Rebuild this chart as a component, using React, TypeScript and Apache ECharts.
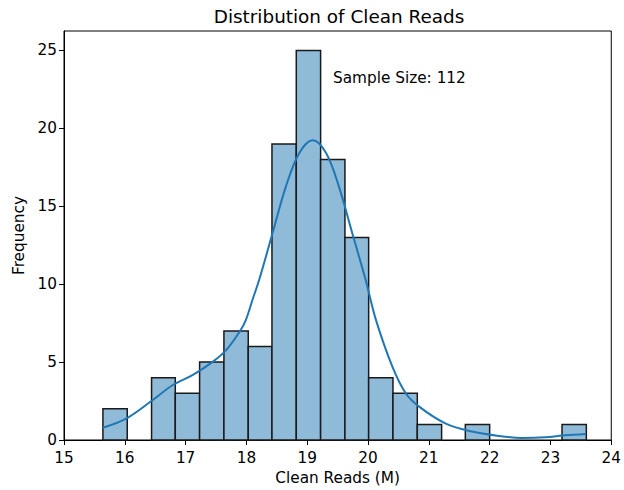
import React, { useEffect, useRef } from "react";
import * as echarts from "echarts";

const binEdges = [15.64, 16.04, 16.44, 16.83, 17.23, 17.63, 18.03, 18.42, 18.82, 19.22, 19.62, 20.01, 20.41, 20.81, 21.21, 21.6, 22.0, 22.4, 22.79, 23.19, 23.59];
const binCounts = [2, 0, 4, 3, 5, 7, 6, 19, 25, 18, 13, 4, 3, 1, 0, 1, 0, 0, 0, 1];

const kdeX = [15.64, 16.03, 16.46, 16.79, 17.12, 17.45, 17.67, 17.89, 17.99, 18.1, 18.21, 18.43, 18.65, 18.87, 19.09, 19.31, 19.52, 19.74, 19.96, 20.13, 20.4, 20.62, 20.84, 21.27, 21.71, 22.15, 22.53, 22.91, 23.24, 23.58];
const kdeY = [0.79, 1.39, 2.57, 3.53, 4.18, 5.03, 5.78, 6.96, 7.7, 9.0, 10.28, 13.28, 16.28, 18.42, 19.24, 18.42, 16.28, 13.28, 10.28, 7.71, 4.71, 3.0, 2.14, 1.07, 0.54, 0.26, 0.13, 0.17, 0.3, 0.39];

const xTicks = [15, 16, 17, 18, 19, 20, 21, 22, 23, 24];
const yTicks = [0, 5, 10, 15, 20, 25];

const FONT = "DejaVu Sans";
const FS = 15.3;

export default function App() {
  const ref = useRef<HTMLDivElement>(null);
  useEffect(() => {
    if (!ref.current) return;
    const chart = echarts.init(ref.current, null, { renderer: "svg" });
    const histData = binCounts.map((c, i) => [binEdges[i], binEdges[i + 1], c]);
    chart.setOption({
      animation: false,
      backgroundColor: "#ffffff",
      title: {
        text: "Distribution of Clean Reads",
        left: 334,
        textAlign: "center",
        top: 2,
        textStyle: { fontFamily: FONT, fontSize: 18.4, fontWeight: "normal", color: "#000" },
      },
      grid: {
        left: 64,
        right: 11,
        top: 31,
        bottom: 50,
        show: true,
        borderColor: "#000",
        borderWidth: 1,
        backgroundColor: "transparent",
      },
      xAxis: {
        type: "value",
        min: 15,
        max: 24,
        interval: 1,
        name: "Clean Reads (M)",
        nameLocation: "middle",
        nameGap: 30,
        nameTextStyle: { fontFamily: FONT, fontSize: FS, color: "#000" },
        axisLine: { show: true, lineStyle: { color: "#000", width: 1 } },
        axisTick: { show: true, length: 5, lineStyle: { color: "#000" }, customValues: xTicks },
        axisLabel: { fontFamily: FONT, fontSize: FS, color: "#000", margin: 10, customValues: xTicks },
        splitLine: { show: false },
      },
      yAxis: {
        type: "value",
        min: 0,
        max: 26.25,
        interval: 5,
        name: "Frequency",
        nameLocation: "middle",
        nameGap: 37,
        nameTextStyle: { fontFamily: FONT, fontSize: FS, color: "#000" },
        axisLine: { show: true, lineStyle: { color: "#000", width: 1 } },
        axisTick: { show: true, length: 5, lineStyle: { color: "#000" }, customValues: yTicks },
        axisLabel: { fontFamily: FONT, fontSize: FS, color: "#000", margin: 7, customValues: yTicks },
        splitLine: { show: false },
      },
      graphic: [
        {
          type: "text",
          left: 333,
          top: 70,
          style: { text: "Sample Size: 112", fontFamily: FONT, fontSize: FS, fill: "#000" },
        },
      ],
      series: [
        {
          type: "custom",
          z: 2,
          data: histData,
          encode: { x: [0, 1], y: 2 },
          renderItem: (params: any, api: any) => {
            const c = api.value(2);
            if (!c) return null;
            const p0 = api.coord([api.value(0), c]);
            const p1 = api.coord([api.value(1), 0]);
            return {
              type: "rect",
              shape: { x: p0[0], y: p0[1], width: p1[0] - p0[0], height: p1[1] - p0[1] },
              style: { fill: "#8fbbd9", stroke: "#1a1a1a", lineWidth: 1.5 },
            };
          },
        },
        {
          type: "line",
          z: 3,
          data: kdeX.map((x, i) => [x, kdeY[i]]),
          smooth: 0.35,
          showSymbol: false,
          symbol: "none",
          lineStyle: { color: "#1f77b4", width: 2 },
        },
      ],
    });
    return () => chart.dispose();
  }, []);
  return <div ref={ref} style={{ width: 624, height: 490, position: "fixed", left: 0, top: 0 }} />;
}
